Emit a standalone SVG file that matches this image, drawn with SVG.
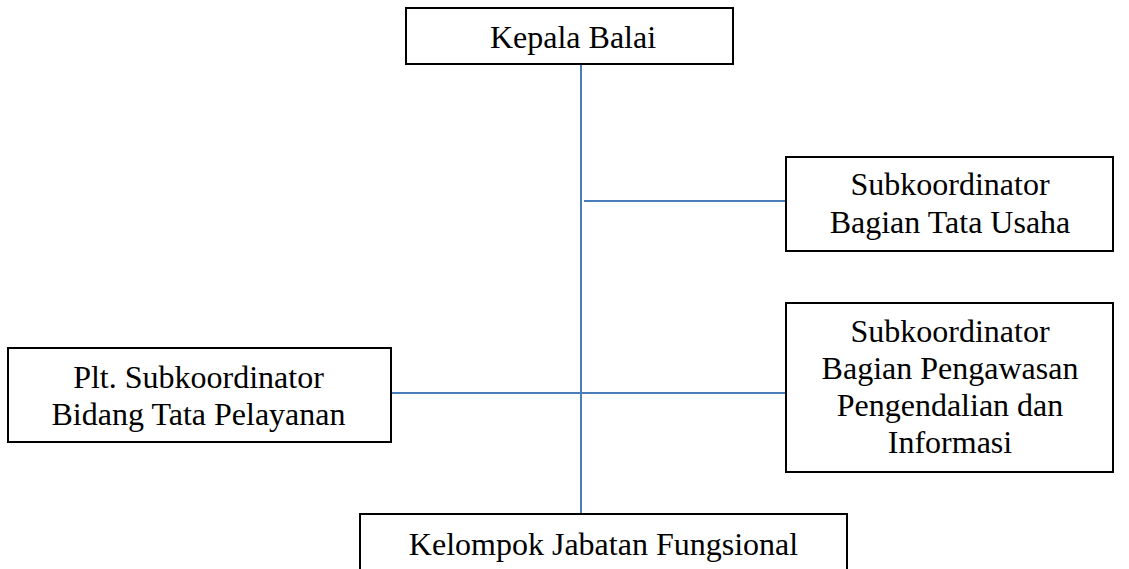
<svg xmlns="http://www.w3.org/2000/svg" width="1129" height="569" viewBox="0 0 1129 569">
<style>
.box{fill:#fff;stroke:#000;stroke-width:2}
.t{font-family:"Liberation Serif","Times New Roman",serif;font-size:32px;fill:#000;text-anchor:middle}
.c{stroke:#4a7ebb;stroke-width:2;fill:none}
</style>
<rect width="1129" height="569" fill="#fff"/>
<g id="connectors">
<line class="c" x1="581" y1="64" x2="581" y2="514"/>
<line class="c" x1="584" y1="201" x2="786" y2="201"/>
<line class="c" x1="391" y1="393" x2="786" y2="393"/>
</g>
<g id="kepala">
<rect class="box" x="406" y="8" width="327" height="56"/>
<text class="t" x="573" y="48">Kepala Balai</text>
</g>
<g id="tatausaha">
<rect class="box" x="786" y="157" width="327" height="94"/>
<text class="t" x="950" y="195">Subkoordinator</text>
<text class="t" x="950" y="233">Bagian Tata Usaha</text>
</g>
<g id="pelayanan">
<rect class="box" x="8" y="348" width="383" height="94"/>
<text class="t" x="198.5" y="388">Plt. Subkoordinator</text>
<text class="t" x="198.5" y="425">Bidang Tata Pelayanan</text>
</g>
<g id="pengawasan">
<rect class="box" x="786" y="303" width="327" height="169"/>
<text class="t" x="950" y="342">Subkoordinator</text>
<text class="t" x="950" y="379">Bagian Pengawasan</text>
<text class="t" x="950" y="416">Pengendalian dan</text>
<text class="t" x="950" y="453">Informasi</text>
</g>
<g id="kelompok">
<rect class="box" x="360" y="514" width="487" height="70"/>
<text class="t" x="603.5" y="555">Kelompok Jabatan Fungsional</text>
</g>
</svg>
